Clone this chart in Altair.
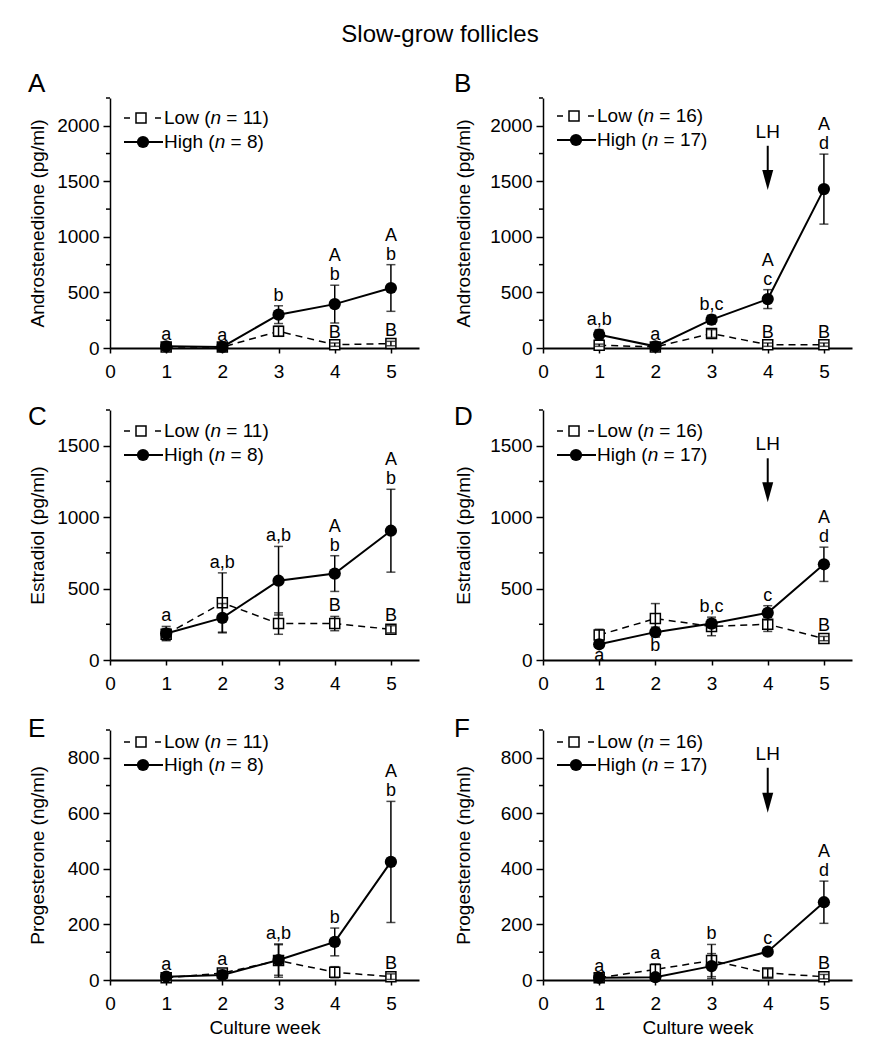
import altair as alt
import pandas as pd

FONT = "Liberation Sans"

weeks = [1, 2, 3, 4, 5]

# Panel A: Androstenedione, Low (n = 11) / High (n = 8)
a_high = [15, 10, 300, 395, 540]
a_high_err = [10, 8, 80, 170, 210]
a_low = [10, 8, 150, 30, 40]
a_low_err = [5, 5, 45, 15, 20]
a_ann_week = [1, 2, 3, 4, 5, 4, 5]
a_ann_series = ["High", "High", "High", "High", "High", "Low", "Low"]
a_ann_text = ["a", "a", "b", "A\nb", "A\nb", "B", "B"]
a_ann_pos = ["above", "above", "above", "above", "above", "above", "above"]

# Panel B: Androstenedione, Low (n = 16) / High (n = 17)
b_high = [120, 15, 255, 440, 1430]
b_high_err = [45, 10, 40, 85, 315]
b_low = [25, 10, 130, 30, 30]
b_low_err = [10, 5, 35, 15, 15]
b_ann_week = [1, 2, 3, 4, 5, 4, 5]
b_ann_series = ["High", "High", "High", "High", "High", "Low", "Low"]
b_ann_text = ["a,b", "a", "b,c", "A\nc", "A\nd", "B", "B"]
b_ann_pos = ["above", "above", "above", "above", "above", "above", "above"]
b_lh = [1946, 1820, 1513]

# Panel C: Estradiol
c_high = [185, 295, 555, 605, 905]
c_high_err = [50, 100, 240, 125, 290]
c_low = [180, 400, 255, 255, 215]
c_low_err = [40, 210, 75, 50, 25]
c_ann_week = [1, 2, 3, 4, 5, 4, 5]
c_ann_series = ["High", "High", "High", "High", "High", "Low", "Low"]
c_ann_text = ["a", "a,b", "a,b", "A\nb", "A\nb", "B", "B"]
c_ann_pos = ["above", "above", "above", "above", "above", "above", "above"]

# Panel D: Estradiol
d_high = [110, 195, 255, 330, 670]
d_high_err = [20, 35, 30, 50, 120]
d_low = [175, 290, 235, 250, 150]
d_low_err = [40, 105, 65, 50, 15]
d_ann_week = [1, 2, 3, 4, 5, 5]
d_ann_series = ["High", "High", "High", "High", "High", "Low"]
d_ann_text = ["a", "b", "b,c", "c", "A\nd", "B"]
d_ann_pos = ["below", "below", "above", "above", "above", "above"]
d_lh = [1510, 1412, 1174]

# Panel E: Progesterone
e_high = [12, 18, 72, 137, 425]
e_high_err = [6, 10, 55, 50, 218]
e_low = [8, 25, 70, 28, 12]
e_low_err = [4, 10, 60, 20, 10]
e_ann_week = [1, 2, 3, 4, 5, 5]
e_ann_series = ["High", "High", "High", "High", "High", "Low"]
e_ann_text = ["a", "a", "a,b", "b", "A\nb", "B"]
e_ann_pos = ["above", "above", "above", "above", "above", "above"]

# Panel F: Progesterone
f_high = [8, 10, 50, 102, 280]
f_high_err = [4, 6, 45, 10, 76]
f_low = [8, 38, 70, 25, 12]
f_low_err = [4, 20, 58, 15, 8]
f_ann_week = [1, 2, 3, 4, 5, 5]
f_ann_series = ["High", "High", "High", "High", "High", "Low"]
f_ann_text = ["a", "a", "b", "c", "A\nd", "B"]
f_ann_pos = ["above", "above", "above", "above", "above", "above"]
f_lh = [814, 764, 638]

x_ticks = [0, 1, 2, 3, 4, 5]

# Arial / Liberation Sans advance widths (per 1000 em)
W = {" ": 278, "(": 333, ")": 333, "=": 584, "L": 556, "o": 556, "w": 722,
     "H": 722, "i": 222, "g": 556, "h": 556, "n": 556}


def tw(s, size):
    return sum(W.get(c, 556) for c in s) / 1000.0 * size


PW, PH = 309, 250
FS = 19
AFS = 18


def panel(letter, ytitle, ymax, major, minor, high, high_err, low, low_err,
          ann_week, ann_series, ann_text, ann_pos, n_low, n_high,
          leg_y, letter_offset, title_x, lh=None, xtitle=None):
    rows = []
    for w, m, e in zip(weeks, high, high_err):
        rows.append(dict(week=w, series="High", mean=m, lo=m - e, hi=m + e))
    for w, m, e in zip(weeks, low, low_err):
        rows.append(dict(week=w, series="Low", mean=m, lo=m - e, hi=m + e))
    df = pd.DataFrame(rows)
    caps = pd.DataFrame(
        [dict(week=r["week"], v=r["lo"]) for _, r in df.iterrows()]
        + [dict(week=r["week"], v=r["hi"]) for _, r in df.iterrows()])

    top_h = dict(zip(weeks, [m + e for m, e in zip(high, high_err)]))
    top_l = dict(zip(weeks, [m + e for m, e in zip(low, low_err)]))
    bot_h = dict(zip(weeks, [m - e for m, e in zip(high, high_err)]))
    arows = []
    for w, s, t, p in zip(ann_week, ann_series, ann_text, ann_pos):
        if p == "below":
            anchor = bot_h[w]
        elif s == "High":
            anchor = max(top_h[w], top_l[w])
        else:
            anchor = top_l[w]
        lines = t.split("\n")
        for k, line in enumerate(reversed(lines)):
            arows.append(dict(week=w, v=anchor, t=line, pos=p, k=k))
    adf = pd.DataFrame(arows)

    minor_vals = [v for v in range(0, ymax + 1, minor) if v % major != 0]
    major_vals = list(range(0, ymax + 1, major))
    mdf = pd.DataFrame({"v": minor_vals})

    xscale = alt.Scale(domain=[0, 5.5], nice=False, zero=False)
    yscale = alt.Scale(domain=[0, ymax], nice=False)
    xaxis = alt.Axis(values=x_ticks, title=xtitle, tickSize=5, labelPadding=9,
                     labelFlush=False, labelFontSize=FS, titleFontSize=FS,
                     titleFontWeight="normal", titlePadding=5, domainWidth=2,
                     tickWidth=1.5, domainColor="black", tickColor="black",
                     labelColor="black", titleColor="black", grid=False)
    yaxis = alt.Axis(values=major_vals, tickSize=7, format="d",
                     title=ytitle, labelFontSize=FS, titleFontSize=FS,
                     titleFontWeight="normal", titleX=title_x, labelPadding=4,
                     labelOverlap=False, domainWidth=1.5, tickWidth=1.5,
                     domainColor="black", tickColor="black", labelColor="black",
                     titleColor="black", grid=False)

    def X(f="week"):
        return alt.X(f"{f}:Q", scale=xscale, axis=xaxis)

    def Y(f):
        return alt.Y(f"{f}:Q", scale=yscale, axis=yaxis)

    base = alt.Chart(df)
    low_line = base.transform_filter("datum.series == 'Low'").mark_line(
        color="black", strokeWidth=1.5, strokeDash=[7, 5]).encode(x=X(), y=Y("mean"))
    high_line = base.transform_filter("datum.series == 'High'").mark_line(
        color="black", strokeWidth=2).encode(x=X(), y=Y("mean"))
    squares = base.transform_filter("datum.series == 'Low'").mark_point(
        shape="square", filled=True, fill="white", stroke="black",
        strokeWidth=1.5, size=100, opacity=1).encode(x=X(), y=Y("mean"))
    bars = base.mark_rule(color="black", strokeWidth=1.5).encode(
        x=X(), y=Y("lo"), y2="hi:Q")
    capm = alt.Chart(caps).mark_tick(orient="horizontal", color="black",
                                     size=9, thickness=1.5).encode(x=X(), y=Y("v"))
    circles = base.transform_filter("datum.series == 'High'").mark_point(
        shape="circle", filled=True, color="black", size=150, opacity=1).encode(
        x=X(), y=Y("mean"))
    ann0 = alt.Chart(adf).transform_filter("datum.pos == 'above' && datum.k == 0").mark_text(
        baseline="bottom", dy=-1, fontSize=AFS, font=FONT, color="black").encode(
        x=X(), y=Y("v"), text="t:N")
    ann1 = alt.Chart(adf).transform_filter("datum.pos == 'above' && datum.k == 1").mark_text(
        baseline="bottom", dy=-20, fontSize=AFS, font=FONT, color="black").encode(
        x=X(), y=Y("v"), text="t:N")
    annb = alt.Chart(adf).transform_filter("datum.pos == 'below'").mark_text(
        baseline="top", dy=0, fontSize=AFS, font=FONT, color="black").encode(
        x=X(), y=Y("v"), text="t:N")
    minor_ticks = alt.Chart(mdf).mark_rule(color="black", strokeWidth=1.5).encode(
        x=alt.value(-4), x2=alt.value(0), y=Y("v"))

    layers = [low_line, high_line, squares, bars, capm, circles, ann0, ann1, annb,
              minor_ticks]

    # hand-drawn legend
    one = pd.DataFrame({"k": [0]})
    ly1, ly2 = leg_y
    tx = 54
    leg = [
        alt.Chart(one).mark_rule(color="black", strokeWidth=1.5, strokeDash=[6, 25]).encode(
            x=alt.value(14), x2=alt.value(51), y=alt.value(ly1)),
        alt.Chart(one).mark_point(shape="square", filled=True, fill="white", stroke="black",
                                  strokeWidth=1.5, size=100, opacity=1).encode(
            x=alt.value(31), y=alt.value(ly1)),
        alt.Chart(one).mark_rule(color="black", strokeWidth=2).encode(
            x=alt.value(14), x2=alt.value(53), y=alt.value(ly2)),
        alt.Chart(one).mark_point(shape="circle", filled=True, color="black", size=150,
                                  opacity=1).encode(x=alt.value(33), y=alt.value(ly2)),
    ]
    for yy, label, n in [(ly1, "Low (", n_low), (ly2, "High (", n_high)]:
        x1 = tx
        x2 = x1 + tw(label, FS)
        x3 = x2 + tw("n", FS) + tw(" ", FS)
        leg.append(alt.Chart(one).mark_text(align="left", baseline="middle", fontSize=FS,
                                            font=FONT, color="black").encode(
            x=alt.value(x1), y=alt.value(yy), text=alt.value(label)))
        leg.append(alt.Chart(one).mark_text(align="left", baseline="middle", fontSize=FS,
                                            font=FONT, fontStyle="italic", color="black").encode(
            x=alt.value(x2), y=alt.value(yy), text=alt.value("n")))
        leg.append(alt.Chart(one).mark_text(align="left", baseline="middle", fontSize=FS,
                                            font=FONT, color="black").encode(
            x=alt.value(x3), y=alt.value(yy), text=alt.value(f"= {n})")))
    layers += leg

    if lh is not None:
        lhdf = pd.DataFrame({"week": [4], "t": [lh[0]], "s": [lh[1]], "h": [lh[2]]})
        lc = alt.Chart(lhdf)
        layers += [
            lc.mark_text(baseline="middle", fontSize=FS, font=FONT, color="black").encode(
                x=X(), y=Y("t"), text=alt.value("LH")),
            lc.mark_rule(color="black", strokeWidth=2).encode(
                x=X(), y=Y("s"), y2="h:Q"),
            lc.mark_point(shape="M-0.55,-1L0.55,-1L0,1Z", filled=True, color="black",
                          size=400, opacity=1).encode(x=X(), y=Y("h")),
        ]

    return alt.layer(*layers).properties(
        width=PW, height=PH,
        title=alt.TitleParams(letter, anchor="start", fontSize=26, fontWeight="normal",
                              font=FONT, offset=letter_offset, color="black"))


TL, TR = -63, -70

A = panel("A", "Androstenedione (pg/ml)", 2250, 500, 250, a_high, a_high_err, a_low, a_low_err,
          a_ann_week, a_ann_series, a_ann_text, a_ann_pos, 11, 8, (20, 44), 0, TL)
B = panel("B", "Androstenedione (pg/ml)", 2250, 500, 250, b_high, b_high_err, b_low, b_low_err,
          b_ann_week, b_ann_series, b_ann_text, b_ann_pos, 16, 17, (18, 42), 0, TR, lh=b_lh)
C = panel("C", "Estradiol (pg/ml)", 1750, 500, 250, c_high, c_high_err, c_low, c_low_err,
          c_ann_week, c_ann_series, c_ann_text, c_ann_pos, 11, 8, (21, 45), -21, TL)
D = panel("D", "Estradiol (pg/ml)", 1750, 500, 250, d_high, d_high_err, d_low, d_low_err,
          d_ann_week, d_ann_series, d_ann_text, d_ann_pos, 16, 17, (21, 45), -21, TR, lh=d_lh)
E = panel("E", "Progesterone (ng/ml)", 900, 200, 100, e_high, e_high_err, e_low, e_low_err,
          e_ann_week, e_ann_series, e_ann_text, e_ann_pos, 11, 8, (12, 35), -13, TL,
          xtitle="Culture week")
F = panel("F", "Progesterone (ng/ml)", 900, 200, 100, f_high, f_high_err, f_low, f_low_err,
          f_ann_week, f_ann_series, f_ann_text, f_ann_pos, 16, 17, (12, 35), -13, TR,
          lh=f_lh, xtitle="Culture week")

chart = alt.concat(A, B, C, D, E, F, columns=2, spacing={"row": 23, "column": 34}).properties(
    title=alt.TitleParams("Slow-grow follicles", fontSize=24, fontWeight="normal", font=FONT,
                          anchor="middle", offset=24, color="black"),
    padding={"left": 19, "top": 15, "right": 5, "bottom": 5},
).configure(font=FONT).configure_view(strokeWidth=0)

chart.save("out.html", embed_options={"renderer": "svg", "actions": False})
